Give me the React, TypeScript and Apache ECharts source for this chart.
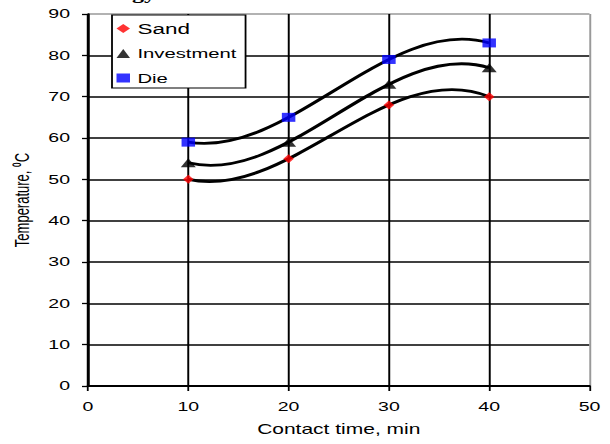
import React, { useEffect, useRef } from "react";
import * as echarts from "echarts";

// ---- data ----
const contactTime = [10, 20, 30, 40];
const sand = [50, 55, 68, 70];
const investment = [54, 59, 73, 77];
const die = [59, 65, 79, 83];
const seriesNames = ["Sand", "Investment", "Die"];
const xTicks = [0, 10, 20, 30, 40, 50];
const yTicks = [0, 10, 20, 30, 40, 50, 60, 70, 80, 90];

const STRETCH = 1.5; // reference picture is horizontally stretched
const W = 610 / STRETCH;
const H = 444;
const FONT = "'Liberation Sans', Arial, sans-serif";

// cubic trendline (passes through the 4 points) expressed as one Bezier curve
function trendRenderer(xs: number[], ys: number[]) {
  return (params: any, api: any) => {
    if (params.dataIndex !== 0) return null;
    const P0 = ys[0];
    const P3 = ys[3];
    const A = 27 * ys[1] - 8 * P0 - P3;
    const B = 27 * ys[2] - P0 - 8 * P3;
    const P1 = (2 * A - B) / 18;
    const P2 = (2 * B - A) / 18;
    const a = api.coord([xs[0], P0]);
    const b = api.coord([xs[1], P1]);
    const c = api.coord([xs[2], P2]);
    const d = api.coord([xs[3], P3]);
    return {
      type: "bezierCurve",
      shape: {
        x1: a[0], y1: a[1],
        cpx1: b[0], cpy1: b[1],
        cpx2: c[0], cpy2: c[1],
        x2: d[0], y2: d[1],
      },
      style: { stroke: "#000", lineWidth: 2.8, fill: "none" },
      z2: 1,
    };
  };
}

export default function App() {
  const ref = useRef<HTMLDivElement>(null);
  useEffect(() => {
    if (!ref.current) return;
    const chart = echarts.init(ref.current, undefined, { renderer: "svg" });
    const pts = (ys: number[]) => contactTime.map((x, i) => [x, ys[i]]);
    const xMax = xTicks[xTicks.length - 1];
    const yMax = yTicks[yTicks.length - 1];
    chart.setOption({
      animation: false,
      backgroundColor: "#fff",
      textStyle: { fontFamily: FONT },
      grid: { left: 58.67, right: 14, top: 14, bottom: 58, containLabel: false },
      legend: {
        show: true,
        orient: "vertical",
        left: 74.67,
        top: 15,
        padding: [6, 6, 3, 3],
        itemGap: 10.5,
        itemWidth: 9,
        itemHeight: 9,
        backgroundColor: "#fff",
        borderColor: "#000",
        borderWidth: 1.2,
        borderRadius: 0,
        data: [
          { name: seriesNames[0], icon: "diamond" },
          { name: seriesNames[1], icon: "triangle" },
          { name: seriesNames[2], icon: "rect" },
        ],
        formatter: (name: string) => (name === "Sand" ? `{big|${name}}` : `{sm|${name}}`),
        textStyle: {
          color: "#000",
          fontFamily: FONT,
          rich: {
            big: { fontSize: 15, lineHeight: 14, fontFamily: FONT, color: "#000" },
            sm: { fontSize: 13.5, lineHeight: 14, fontFamily: FONT, color: "#000" },
          },
        },
      },
      xAxis: {
        type: "value",
        min: 0,
        max: xMax,
        interval: 10,
        name: "Contact time, min",
        nameLocation: "middle",
        nameGap: 36,
        nameTextStyle: { fontSize: 14, color: "#000", fontFamily: FONT },
        axisLine: { show: true, onZero: false, lineStyle: { color: "#000", width: 1.8 } },
        axisTick: { show: true, inside: false, length: 5, lineStyle: { color: "#000", width: 1.2 } },
        axisLabel: { fontSize: 13, color: "#000", margin: 14, fontFamily: FONT },
        splitLine: {
          show: true,
          lineStyle: { color: ["#000", "#000", "#000", "#000", "#000", "#999"], width: 1.3 },
        },
      },
      yAxis: {
        type: "value",
        min: 0,
        max: yMax,
        interval: 10,
        name: "Temperature, \u2070C",
        nameLocation: "middle",
        nameRotate: 90,
        nameGap: 32,
        nameTextStyle: { fontSize: 13, color: "#000", fontFamily: FONT },
        axisLine: { show: true, onZero: false, lineStyle: { color: "#000", width: 1.7 } },
        axisTick: { show: true, inside: false, length: 4, lineStyle: { color: "#000", width: 1.3 } },
        axisLabel: { fontSize: 13, color: "#000", margin: 12, fontFamily: FONT },
        splitLine: {
          show: true,
          lineStyle: {
            color: ["#000", "#000", "#000", "#000", "#000", "#000", "#000", "#000", "#000", "#999"],
            width: 1.7,
          },
        },
      },
      graphic: [
        {
          type: "text",
          left: 80,
          top: -14,
          silent: true,
          style: {
            text: "ogy",
            fontFamily: "'Liberation Serif', 'Times New Roman', serif",
            fontWeight: "bold",
            fontSize: 16,
            fill: "#000",
          },
        },
      ],
      series: [
        {
          type: "custom",
          name: "trend-sand",
          data: pts(sand),
          renderItem: trendRenderer(contactTime, sand),
          z: 2,
          silent: true,
        },
        {
          type: "custom",
          name: "trend-investment",
          data: pts(investment),
          renderItem: trendRenderer(contactTime, investment),
          z: 2,
          silent: true,
        },
        {
          type: "custom",
          name: "trend-die",
          data: pts(die),
          renderItem: trendRenderer(contactTime, die),
          z: 2,
          silent: true,
        },
        {
          type: "scatter",
          name: seriesNames[0],
          data: pts(sand),
          symbol: "diamond",
          symbolSize: [7, 9],
          itemStyle: { color: "#ff0000" },
          z: 5,
        },
        {
          type: "scatter",
          name: seriesNames[1],
          data: pts(investment),
          symbol: "triangle",
          symbolSize: [10, 9],
          itemStyle: { color: "#000" },
          z: 5,
        },
        {
          type: "scatter",
          name: seriesNames[2],
          data: pts(die),
          symbol: "rect",
          symbolSize: [9, 9],
          itemStyle: { color: "#0000ff" },
          z: 5,
        },
      ],
    });
    return () => chart.dispose();
  }, []);
  return (
    <div
      style={{
        position: "fixed",
        left: 0,
        top: 0,
        width: 610,
        height: H,
        overflow: "hidden",
        background: "#fff",
      }}
    >
      <div
        ref={ref}
        style={{
          width: W,
          height: H,
          transform: `scaleX(${STRETCH})`,
          transformOrigin: "left top",
        }}
      />
    </div>
  );
}
